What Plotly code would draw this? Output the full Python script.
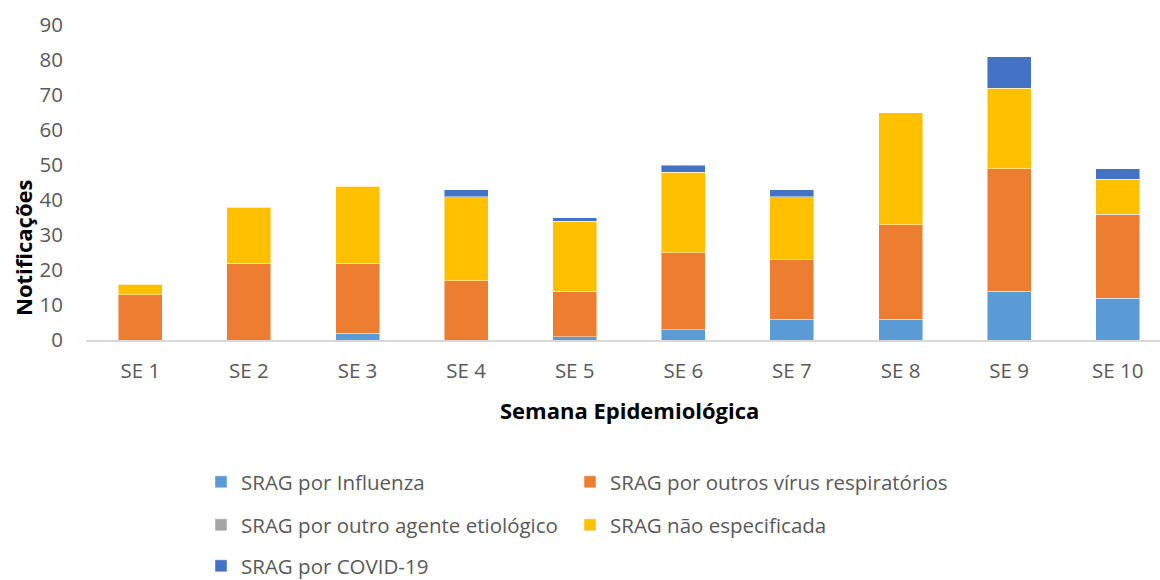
import plotly.graph_objects as go

categories = ["SE 1", "SE 2", "SE 3", "SE 4", "SE 5", "SE 6", "SE 7", "SE 8", "SE 9", "SE 10"]
influenza = [0, 0, 2, 0, 1, 3, 6, 6, 14, 12]
outros_virus = [13, 22, 20, 17, 13, 22, 17, 27, 35, 24]
outro_agente = [0, 0, 0, 0, 0, 0, 0, 0, 0, 0]
nao_especificada = [3, 16, 22, 24, 20, 23, 18, 32, 23, 10]
covid = [0, 0, 0, 2, 1, 2, 2, 0, 9, 3]

series = [
    ("SRAG por Influenza", influenza, "#5B9BD5"),
    ("SRAG por outros vírus respiratórios", outros_virus, "#ED7D31"),
    ("SRAG por outro agente etiológico", outro_agente, "#A5A5A5"),
    ("SRAG não especificada", nao_especificada, "#FFC000"),
    ("SRAG por COVID-19", covid, "#4472C4"),
]
# legend entry positions (left px of entry, center px of row) in a 2-column grid
legend_slots = [(201, 482), (570, 482), (201, 525), (570, 525), (201, 566)]

FONT = "Open Sans"
TS = 20.5
W, H = 1160, 580
fig = go.Figure()
legends = {}
for i, ((name, vals, color), (lx, ly)) in enumerate(zip(series, legend_slots)):
    key = "legend" if i == 0 else f"legend{i + 1}"
    fig.add_trace(go.Bar(
        x=categories, y=vals, name=name, legend=key,
        marker=dict(color=color, line=dict(color="rgba(255,255,255,0.45)", width=1)),
    ))
    legends[key] = dict(orientation="h", xanchor="left", yanchor="middle",
                        xref="container", yref="container",
                        x=lx / W, y=1 - ly / H,
                        font=dict(family=FONT, size=TS, color="#595959"),
                        bgcolor="rgba(0,0,0,0)")

fig.update_layout(
    width=W, height=H,
    margin=dict(l=86, r=0, t=25, b=240, autoexpand=False),
    paper_bgcolor="white", plot_bgcolor="white",
    barmode="stack", bargap=0.595,
    font=dict(family=FONT, color="#595959"),
    showlegend=True,
    xaxis=dict(showline=True, linecolor="#D9D9D9", linewidth=1.5, showgrid=False,
               range=[-0.5, 9.389],
               ticks="", tickfont=dict(family=FONT, size=TS, color="#595959"),
               ticklabelstandoff=12),
    yaxis=dict(range=[0, 90], dtick=10, showgrid=False, showline=False, zeroline=False,
               ticks="", tickfont=dict(family=FONT, size=TS, color="#595959"),
               ticklabelstandoff=22),
    annotations=[
        dict(text="<b>Notificações</b>", x=(23 - 86) / 1074, y=(340 - 248) / 315,
             xref="paper", yref="paper",
             textangle=-90, showarrow=False, xanchor="center", yanchor="middle",
             font=dict(family=FONT, size=22, color="black")),
        dict(text="<b>Semana Epidemiológica</b>", x=(629 - 86) / 1074, y=(340 - 410) / 315,
             xref="paper", yref="paper", showarrow=False, xanchor="center", yanchor="middle",
             font=dict(family=FONT, size=22, color="black")),
    ],
)
fig.update_layout(**legends)

fig.write_html("out.html", config={"displayModeBar": False},
               post_script="document.body.style.margin='0';")
